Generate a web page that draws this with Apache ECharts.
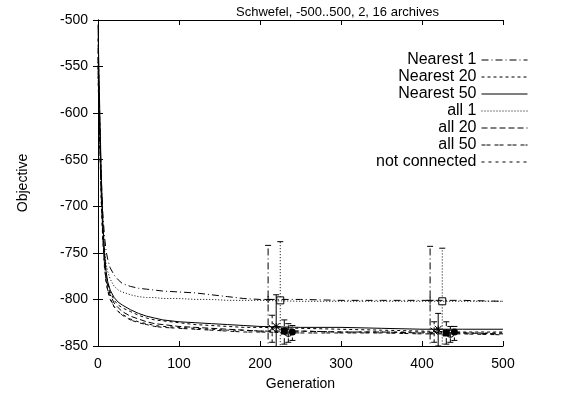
<!DOCTYPE html>
<html><head><meta charset="utf-8">
<script src="https://cdn.jsdelivr.net/npm/echarts@6/dist/echarts.min.js"></script>
<style>html,body{margin:0;padding:0;background:#fff}#c{width:579px;height:400px}</style>
</head><body><div id="c"></div>
<script>
const titleText = 'Schwefel, -500..500, 2, 16 archives';
const xTicks = [0, 100, 200, 300, 400, 500];
const yTicks = [-850, -800, -750, -700, -650, -600, -550, -500];
const gens = [0,2,4,6,8,10,12,15,20,25,30,40,50,60,70,80,100,120,140,160,180,200,250,300,350,400,450,500];
const seriesNames = ['Nearest 1','Nearest 20','Nearest 50','all 1','all 20','all 50','not connected'];
const nearest1 = [-540,-610,-670,-708,-732,-748,-757,-766,-774,-779,-783,-786,-788,-789,-790,-791,-792,-793,-795,-797,-799,-800,-800,-801,-801,-801,-801,-802];
const nearest20 = [-520,-600,-675,-722,-752,-772,-782,-792,-801,-806,-809,-813,-817,-820,-822,-823,-825,-827,-828,-829,-830,-830,-831,-832,-833,-834,-835,-835];
const nearest50 = [-505,-590,-665,-718,-750,-770,-781,-790,-798,-803,-806,-811,-815,-818,-820,-822,-824,-825,-826,-827,-828,-829,-830,-830,-831,-832,-832,-832];
const all1 = [-545,-620,-680,-720,-746,-762,-770,-778,-786,-790,-792,-795,-797,-798,-798,-799,-799,-800,-800,-801,-801,-801,-802,-802,-802,-802,-802,-802];
const all20 = [-530,-610,-685,-730,-758,-776,-786,-795,-804,-809,-813,-818,-821,-824,-826,-827,-829,-830,-831,-832,-833,-834,-834,-835,-835,-836,-836,-837];
const all50 = [-550,-625,-690,-735,-762,-780,-790,-799,-808,-813,-817,-822,-825,-827,-829,-830,-831,-832,-833,-834,-835,-835,-836,-836,-836,-837,-837,-838];
const notConnected = [-560,-630,-695,-740,-766,-782,-791,-800,-808,-813,-816,-821,-824,-826,-828,-829,-830,-831,-832,-833,-833,-834,-834,-835,-835,-835,-836,-836];
// error bars: [generation, mean, low, high]
const errNearest1 = [[210,-800,-858,-742],[410,-801,-858,-743]];
const errNearest20 = [[215,-831,-846,-817],[415,-834,-846,-824]];
const errNearest50 = [[220,-829,-864,-795],[420,-832,-850,-815]];
const errAll1 = [[225,-801,-862,-738],[425,-802,-858,-745]];
const errAll20 = [[230,-834,-848,-822],[430,-836,-848,-824]];
const errAll50 = [[235,-836,-846,-826],[435,-837,-846,-829]];
const errNotConnected = [[240,-835,-844,-828],[440,-835,-844,-829]];

const lineValues = [nearest1, nearest20, nearest50, all1, all20, all50, notConnected];
const errValues = [errNearest1, errNearest20, errNearest50, errAll1, errAll20, errAll50, errNotConnected];
const dashes = [[7,3,1,3],[3,3],'solid',[1,2],[6,3],[4,1,4,4],[3,4]];
const marks = ['plus','cross','star','box','fbox','circle','fcircle'];
const FONT = 'Liberation Sans, Arial, Helvetica, sans-serif';

function markShapes(kind, x, y, st) {
  const r = 3.5, out = [];
  const ln = (x1,y1,x2,y2) => out.push({type:'line', shape:{x1,y1,x2,y2}, style:st});
  if (kind==='plus' || kind==='star') { ln(x-r,y,x+r,y); ln(x,y-r,x,y+r); }
  if (kind==='cross' || kind==='star') { ln(x-r,y-r,x+r,y+r); ln(x-r,y+r,x+r,y-r); }
  if (kind==='box') out.push({type:'rect', shape:{x:x-r,y:y-r,width:2*r,height:2*r}, style:{stroke:'#000',fill:'#fff',lineWidth:1}});
  if (kind==='fbox') out.push({type:'rect', shape:{x:x-r,y:y-r,width:2*r,height:2*r}, style:{fill:'#000'}});
  if (kind==='circle') out.push({type:'circle', shape:{cx:x,cy:y,r:r}, style:{stroke:'#000',fill:'none',lineWidth:1}});
  if (kind==='fcircle') out.push({type:'circle', shape:{cx:x,cy:y,r:r}, style:{fill:'#000'}});
  return out;
}

const series = [];
lineValues.forEach((vals, i) => {
  series.push({
    name: seriesNames[i], type: 'line', symbol: 'none', animation: false,
    data: gens.map((g, k) => [g, vals[k]]),
    lineStyle: {color: '#000', width: 1, type: dashes[i]},
    itemStyle: {color: '#000'}
  });
});
errValues.forEach((errs, i) => {
  series.push({
    type: 'custom', animation: false, clip: true, silent: true,
    data: errs,
    renderItem: function (params, api) {
      const g = api.value(0);
      const m = api.coord([g, api.value(1)]);
      const lo = api.coord([g, api.value(2)]);
      const hi = api.coord([g, api.value(3)]);
      const dash = dashes[i] === 'solid' ? null : dashes[i];
      const st = {stroke: '#000', lineWidth: 1, lineDash: dash};
      const solid = {stroke: '#000', lineWidth: 1};
      const children = [
        {type:'line', shape:{x1:m[0],y1:lo[1],x2:m[0],y2:hi[1]}, style:st},
        {type:'line', shape:{x1:m[0]-3,y1:lo[1],x2:m[0]+3,y2:lo[1]}, style:solid},
        {type:'line', shape:{x1:m[0]-3,y1:hi[1],x2:m[0]+3,y2:hi[1]}, style:solid}
      ].concat(markShapes(marks[i], m[0], m[1], solid));
      return {type:'group', children};
    }
  });
});

const axisCommon = {
  axisLine: {show: true, lineStyle: {color: '#000', width: 1}},
  axisTick: {show: true, inside: true, length: 5, lineStyle: {color: '#000'}},
  splitLine: {show: false}
};
const chart = echarts.init(document.getElementById('c'), null, {renderer: 'canvas'});
chart.setOption({
  animation: false,
  backgroundColor: '#fff',
  title: {text: titleText, left: 231, top: 1, textStyle: {fontFamily: FONT, fontSize: 13, fontWeight: 'normal', color: '#000'}},
  grid: {left: 98, right: 76, top: 20, bottom: 54},
  legend: {
    orient: 'vertical', right: 46, top: 47, align: 'right', itemWidth: 46, itemHeight: 17, itemGap: 1,
    data: seriesNames,
    itemStyle: {color: 'rgba(0,0,0,0)', borderColor: 'rgba(0,0,0,0)', borderWidth: 0},
    lineStyle: {width: 1},
    textStyle: {fontFamily: FONT, fontSize: 16, color: '#000'}
  },
  xAxis: [
    Object.assign({type: 'value', min: xTicks[0], max: xTicks[xTicks.length-1], interval: 100, position: 'bottom',
      name: 'Generation', nameLocation: 'middle', nameGap: 31,
      nameTextStyle: {fontFamily: FONT, fontSize: 14, color: '#000'},
      axisLabel: {fontFamily: FONT, fontSize: 14, color: '#000', margin: 11}}, axisCommon),
    Object.assign({type: 'value', min: xTicks[0], max: xTicks[xTicks.length-1], interval: 100, position: 'top',
      axisLabel: {show: false}}, axisCommon)
  ],
  yAxis: [
    Object.assign({type: 'value', min: yTicks[0], max: yTicks[yTicks.length-1], interval: 50, position: 'left',
      name: 'Objective', nameLocation: 'middle', nameGap: 68, nameRotate: 90,
      nameTextStyle: {fontFamily: FONT, fontSize: 14, color: '#000'},
      axisLabel: {fontFamily: FONT, fontSize: 14, color: '#000', margin: 10}}, axisCommon),
    Object.assign({type: 'value', min: yTicks[0], max: yTicks[yTicks.length-1], interval: 50, position: 'right',
      axisLabel: {show: false}}, axisCommon)
  ],
  series: series
});
</script></body></html>
